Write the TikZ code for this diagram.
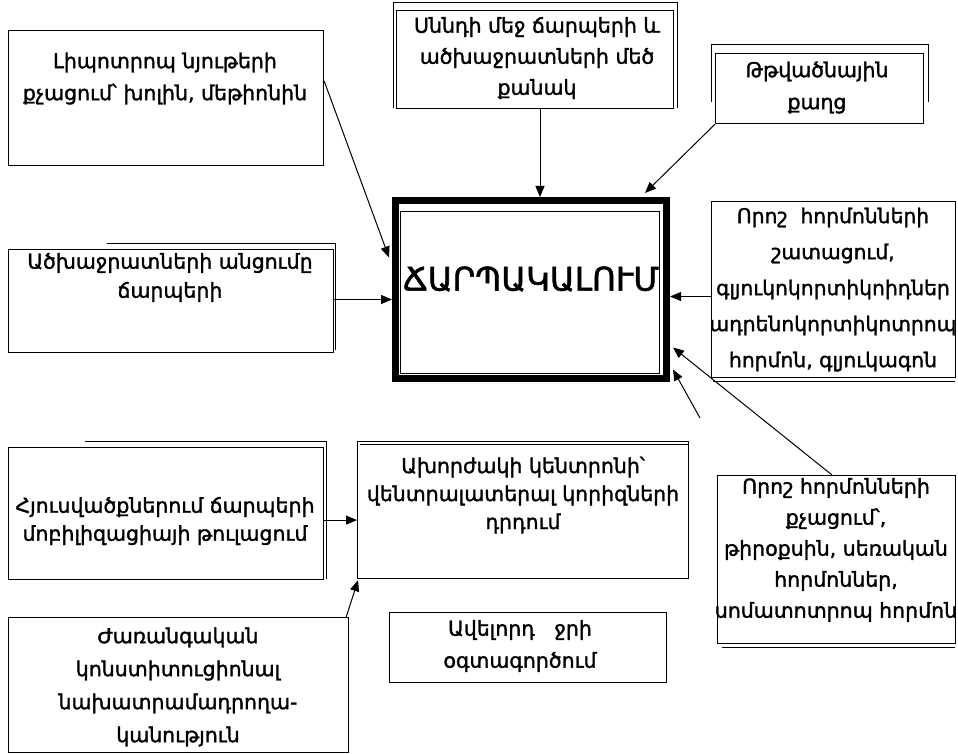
\documentclass[tikz,border=0pt]{standalone}
\usepackage{fontspec}
\setmainfont{DejaVu Sans}[FakeBold=1.6]
\usetikzlibrary{arrows.meta,calc}
\begin{document}
\begin{tikzpicture}[x=1pt,y=-1pt,
  box/.style={draw=black,line width=1.2pt,anchor=north west,inner sep=0pt},
  txt/.style={align=center,inner sep=0pt,font=\fontsize{20.5}{32}\selectfont},
  shade/.style={draw=black,line width=0.9pt},
  arr/.style={line width=1pt,-{Triangle[length=11pt,width=9pt]}}]
\useasboundingbox (0,0) rectangle (958,754);

% ---- boxes ----
\node[box,minimum width=315,minimum height=135] (A) at (8,30) {};
\node[box,minimum width=277,minimum height=98] (B) at (396,10) {};
\draw[shade] (393,108) |- (677,2) -- (677,108);
\node[box,minimum width=208,minimum height=70] (C) at (715,53) {};
\draw[shade] (711,102) |- (928,44) -- (928,102);
\node[box,minimum width=325,minimum height=103] (D) at (8,249) {};
\draw[shade] (107,243) -- (335,243) -- (335,350);
\node[draw=black,line width=7pt,minimum width=271,minimum height=178,inner sep=0pt] (E) at (531,289.5) {};
\draw[line width=1pt] (400,212) rectangle (659,373);
\node[box,minimum width=244,minimum height=176] (F) at (711,201) {};
\draw[shade] (713,381) -- (955,381);
\node[box,minimum width=315,minimum height=132] (G) at (8,447) {};
\draw[shade] (85,441) -- (326,441) -- (326,579);
\node[box,minimum width=331,minimum height=137] (H) at (357,441) {};
\draw[shade] (360,444.5) -- (688,444.5);
\node[box,minimum width=238,minimum height=168] (I) at (717,475) {};
\draw[shade] (722,647) -- (955,647);
\node[box,minimum width=340,minimum height=135] (J) at (8,617) {};
\node[box,minimum width=277,minimum height=70] (K) at (389,612) {};

% ---- texts ----
\node[txt] (At) at (165,78.5) {Լիպոտրոպ նյութերի\\քչացում՝ խոլին, մեթիոնին};
\node[txt,font=\fontsize{20.5}{31}\selectfont] (Bt) at (537,58) {Սննդի մեջ ճարպերի և\\ածխաջրատների մեծ\\քանակ};
\node[txt] (Ct) at (817,87.5) {Թթվածնային\\քաղց};
\node[txt,font=\fontsize{20.5}{29}\selectfont] (Dt) at (170,277.5) {Ածխաջրատների անցումը\\ճարպերի};
\node[font=\fontsize{32.5}{33}\selectfont,inner sep=0pt] (Et) at (531,279) {ՃԱՐՊԱԿԱԼՈՒՄ};
\node[txt,font=\fontsize{20.3}{36}\selectfont] (Ft) at (833,289.5) {Որոշ\ \ հորմոնների\\շատացում,\\գլյուկոկորտիկոիդներ\\ադրենոկորտիկոտրոպ\\հորմոն, գլյուկագոն};
\node[txt,font=\fontsize{20.5}{28}\selectfont] (Gt) at (165,521) {Հյուսվածքներում ճարպերի\\մոբիլիզացիայի թուլացում};
\node[txt,font=\fontsize{20.5}{28}\selectfont] (Ht) at (523,495) {Ախորժակի կենտրոնի՝\\վենտրալատերալ կորիզների\\դրդում};
\node[txt,font=\fontsize{20.5}{31}\selectfont] (It) at (836,550) {Որոշ հորմոնների\\քչացում՝,\\թիրօքսին, սեռական\\հորմոններ,\\սոմատոտրոպ հորմոն};
\node[txt,font=\fontsize{20.5}{33}\selectfont] (Jt) at (178,687) {Ժառանգական\\կոնստիտուցիոնալ\\նախատրամադրողա-\\կանություն};
\node[txt,font=\fontsize{20.5}{32}\selectfont] (Kt) at (520,646) {Ավելորդ\ \ \ ջրի\\օգտագործում};

% ---- connectors ----
\draw[arr] ($(A.east)+(0,-17)$) -- ($(E.west)+(-3,-32)$);
\coordinate (e2) at ($(E.north)+(9,0)$);
\draw[arr] (B.south -| e2) -- (e2);
\draw[arr] (C.south west) -- ($(E.north east)+(-25,-4)$);
\coordinate (e4) at ($(E.west)+(0,10)$);
\draw[arr] (D.east |- e4) -- (e4);
\coordinate (e5) at ($(E.east)+(0,7)$);
\draw[arr] (F.west |- e5) -- (e5);
\coordinate (free) at (700,418);
\draw[arr] (free) -- ($(E.east)+(3,80)$);
\draw[arr] ($(I.north west)+(115,0)$) -- ($(E.east)+(3,58)$);
\coordinate (e8) at ($(H.west)+(0,10)$);
\draw[arr] (G.east |- e8) -- (e8);
\draw[arr] ($(J.north east)+(-3,0)$) -- ($(H.south west)+(1,1)$);
\end{tikzpicture}
\end{document}
